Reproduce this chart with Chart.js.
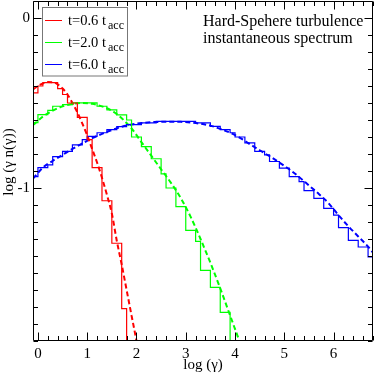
<!DOCTYPE html>
<html>
<head>
<meta charset="utf-8">
<script src="https://cdn.jsdelivr.net/npm/chart.js@4.4.1/dist/chart.umd.min.js"></script>
<style>
  html, body { margin: 0; padding: 0; background: #ffffff; }
  canvas { display: block; }
</style>
</head>
<body>
<canvas id="c" width="374" height="374"></canvas>
<script>
// ---------------- data ----------------
const seriesLabels = ['t=0.6 t', 't=2.0 t', 't=6.0 t'];
const seriesSub = 'acc';
const seriesColors = ['#ff0000', '#00ff00', '#0000ff'];

// histograms: x = left edge of each bin, value holds until next edge
const redHistX = [-0.1, 0.0, 0.1, 0.4, 0.5, 0.6, 0.8, 1.0, 1.1, 1.3, 1.5, 1.7, 1.8];
const redHistY = [-0.44, -0.40, -0.38, -0.415, -0.45, -0.50, -0.585, -0.716, -0.88, -1.075, -1.325, -1.71, -2.5];

const greenHistX = [-0.1, 0.0, 0.2, 0.3, 0.5, 0.7, 1.2, 1.4, 1.6, 1.8, 1.9, 2.1, 2.3, 2.5, 2.6, 2.8, 3.0, 3.2, 3.3, 3.5, 3.7, 3.9];
const greenHistY = [-0.615, -0.568, -0.543, -0.519, -0.509, -0.499, -0.519, -0.54, -0.57, -0.60, -0.70, -0.757, -0.828, -0.917, -1.0, -1.11, -1.249, -1.314, -1.485, -1.584, -1.732, -2.5];

const blueHistX = [-0.1, 0.0, 0.2, 0.3, 0.5, 0.7, 0.9, 1.0, 1.2, 1.4, 1.6, 1.8, 2.1, 2.4, 3.2, 3.5, 3.7, 3.9, 4.0, 4.2, 4.4, 4.6, 4.7, 4.9, 5.1, 5.3, 5.4, 5.6, 5.8, 6.0, 6.1, 6.3, 6.5, 6.7, 6.8];
const blueHistY = [-0.933, -0.88, -0.864, -0.815, -0.785, -0.746, -0.716, -0.696, -0.675, -0.657, -0.639, -0.627, -0.617, -0.608, -0.617, -0.637, -0.657, -0.675, -0.70, -0.735, -0.785, -0.805, -0.844, -0.883, -0.933, -0.963, -1.016, -1.061, -1.12, -1.16, -1.233, -1.308, -1.347, -1.406, -1.406];

// fitted (dashed) spectra
const redFitX = [-0.1, 0.0, 0.1, 0.2, 0.3, 0.4, 0.5, 0.6, 0.7, 0.8, 0.9, 1.0, 1.1, 1.2, 1.3, 1.4, 1.5, 1.6, 1.7, 1.8, 1.9, 2.0, 2.1];
const redFitY = [-0.42, -0.40, -0.385, -0.377, -0.378, -0.39, -0.415, -0.45, -0.50, -0.555, -0.62, -0.69, -0.77, -0.85, -0.94, -1.04, -1.15, -1.31, -1.45, -1.60, -1.75, -1.90, -2.07];

const greenFitX = [-0.1, 0.1, 0.3, 0.5, 0.7, 0.9, 1.1, 1.3, 1.5, 1.7, 1.9, 2.1, 2.3, 2.5, 2.7, 2.9, 3.1, 3.3, 3.5, 3.7, 3.9, 4.1, 4.3];
const greenFitY = [-0.63, -0.58, -0.545, -0.52, -0.505, -0.50, -0.505, -0.52, -0.545, -0.59, -0.65, -0.73, -0.81, -0.89, -0.97, -1.06, -1.17, -1.30, -1.44, -1.59, -1.75, -1.91, -2.08];

const blueFitX = [-0.1, 0.1, 0.3, 0.5, 0.7, 0.9, 1.1, 1.3, 1.5, 1.7, 1.9, 2.1, 2.3, 2.5, 2.7, 2.9, 3.1, 3.3, 3.5, 3.7, 3.9, 4.1, 4.3, 4.5, 4.7, 4.9, 5.1, 5.3, 5.5, 5.7, 5.9, 6.1, 6.3, 6.5, 6.7, 6.8];
const blueFitY = [-0.945, -0.88, -0.84, -0.805, -0.77, -0.738, -0.707, -0.682, -0.659, -0.64, -0.626, -0.618, -0.613, -0.611, -0.61, -0.611, -0.615, -0.622, -0.633, -0.652, -0.675, -0.705, -0.742, -0.778, -0.813, -0.85, -0.89, -0.935, -0.985, -1.035, -1.09, -1.16, -1.225, -1.285, -1.345, -1.38];

// axes
const xTickValues = [0, 1, 2, 3, 4, 5, 6];
const yTickValues = [0, -1];
const xRange = [-0.1, 6.8];
const yRange = [-1.9, 0.1];
const xTitle = 'log (γ)';
const yTitle = 'log (γ n(γ))';
const noteLines = ['Hard-Spehere turbulence', 'instantaneous spectrum'];

// ---------------- build ----------------
const FONT = "'Liberation Serif', 'Times New Roman', 'DejaVu Serif', serif";
const pts = (xs, ys) => xs.map((x, i) => ({ x: x, y: ys[i] }));

function histDs(xs, ys, color) {
  return {
    data: pts(xs, ys), borderColor: color, borderWidth: 1.2, stepped: 'before',
    pointRadius: 0, fill: false, tension: 0
  };
}
function fitDs(xs, ys, color) {
  return {
    data: pts(xs, ys), borderColor: color, borderWidth: 2, borderDash: [5, 3],
    pointRadius: 0, fill: false, cubicInterpolationMode: 'monotone'
  };
}

const framePlugin = {
  id: 'frame',
  afterDatasetsDraw(chart) {
    const ctx = chart.ctx;
    const a = chart.chartArea;
    const xs = chart.scales.x, ys = chart.scales.y;
    ctx.save();
    ctx.strokeStyle = '#000';
    ctx.lineWidth = 1;
    ctx.beginPath();
    const L = Math.round(a.left) + 0.5, R = Math.round(a.right) - 0.5;
    const T = Math.round(a.top) + 0.5, B = Math.round(a.bottom) - 0.5;
    ctx.rect(L, T, R - L, B - T);
    ctx.stroke();
    ctx.beginPath();
    for (let k = 0; k <= 34; k++) {
      const v = k * 0.2;
      const px = Math.round(xs.getPixelForValue(v)) + 0.5;
      const major = Math.abs(v - Math.round(v)) < 1e-6;
      const len = major ? 8 : 4.5;
      ctx.moveTo(px, B); ctx.lineTo(px, B - len);
      ctx.moveTo(px, T); ctx.lineTo(px, T + len);
    }
    for (let k = -19; k <= 1; k++) {
      const v = k * 0.1;
      const py = Math.round(ys.getPixelForValue(v)) + 0.5;
      const major = (k % 10 === 0);
      const len = major ? 8 : 4.5;
      ctx.moveTo(L, py); ctx.lineTo(L + len, py);
      ctx.moveTo(R, py); ctx.lineTo(R - len, py);
    }
    ctx.stroke();
    ctx.restore();
  },
  afterDraw(chart) {
    const ctx = chart.ctx;
    ctx.save();
    ctx.fillStyle = '#000';
    // y axis title
    ctx.save();
    ctx.font = '15px ' + FONT;
    ctx.translate(9, 162);
    ctx.rotate(-Math.PI / 2);
    ctx.textAlign = 'center';
    ctx.textBaseline = 'middle';
    ctx.fillText(yTitle, 0, 0);
    ctx.restore();
    // annotation
    ctx.font = '16px ' + FONT;
    ctx.textBaseline = 'alphabetic';
    ctx.textAlign = 'left';
    ctx.fillText(noteLines[0], 203, 26);
    ctx.fillText(noteLines[1], 203, 43);
    // legend
    ctx.strokeStyle = '#777';
    ctx.lineWidth = 1;
    ctx.fillStyle = '#fff';
    ctx.fillRect(42, 7.5, 85, 68.5);
    ctx.strokeRect(42.5, 7.5, 85, 68.5);
    for (let i = 0; i < seriesLabels.length; i++) {
      const ly = 20.5 + i * 22;
      ctx.strokeStyle = seriesColors[i];
      ctx.beginPath();
      ctx.moveTo(45, ly); ctx.lineTo(62, ly);
      ctx.stroke();
      ctx.fillStyle = '#000';
      ctx.font = '14.5px ' + FONT;
      const by = 25 + i * 21.8;
      ctx.fillText(seriesLabels[i], 68, by);
      const w = ctx.measureText(seriesLabels[i]).width;
      ctx.font = '12px ' + FONT;
      ctx.fillText(seriesSub, 68 + w + 2, by + 4);
    }
    ctx.restore();
  }
};

new Chart(document.getElementById('c'), {
  type: 'line',
  data: {
    datasets: [
      histDs(redHistX, redHistY, seriesColors[0]),
      histDs(greenHistX, greenHistY, seriesColors[1]),
      histDs(blueHistX, blueHistY, seriesColors[2]),
      fitDs(redFitX, redFitY, seriesColors[0]),
      fitDs(greenFitX, greenFitY, seriesColors[1]),
      fitDs(blueFitX, blueFitY, seriesColors[2])
    ]
  },
  options: {
    responsive: false,
    animation: false,
    devicePixelRatio: 1,
    layout: { padding: { top: 1, right: 1, left: 0, bottom: 0 } },
    plugins: { legend: { display: false }, tooltip: { enabled: false } },
    scales: {
      x: {
        type: 'linear', min: xRange[0], max: xRange[1],
        grid: { display: false, drawTicks: false },
        border: { display: false },
        afterBuildTicks: (s) => { s.ticks = xTickValues.map(v => ({ value: v })); },
        afterFit: (s) => { s.height = 33; s.paddingLeft = 0; s.paddingRight = 0; },
        ticks: { color: '#000', font: { family: FONT, size: 15 }, padding: 4, maxRotation: 0, autoSkip: false,
                 callback: (v) => String(v) },
        title: { display: true, text: xTitle, color: '#000', font: { family: FONT, size: 15 }, padding: { top: 0, bottom: 0 } }
      },
      y: {
        type: 'linear', min: yRange[0], max: yRange[1],
        grid: { display: false, drawTicks: false },
        border: { display: false },
        afterBuildTicks: (s) => { s.ticks = yTickValues.map(v => ({ value: v })); },
        afterFit: (s) => { s.width = 33; s.paddingTop = 0; s.paddingBottom = 0; },
        ticks: { color: '#000', font: { family: FONT, size: 15 }, padding: 3, autoSkip: false,
                 callback: (v) => String(v) },
        title: { display: false, text: yTitle }
      }
    }
  },
  plugins: [framePlugin]
});
</script>
</body>
</html>
